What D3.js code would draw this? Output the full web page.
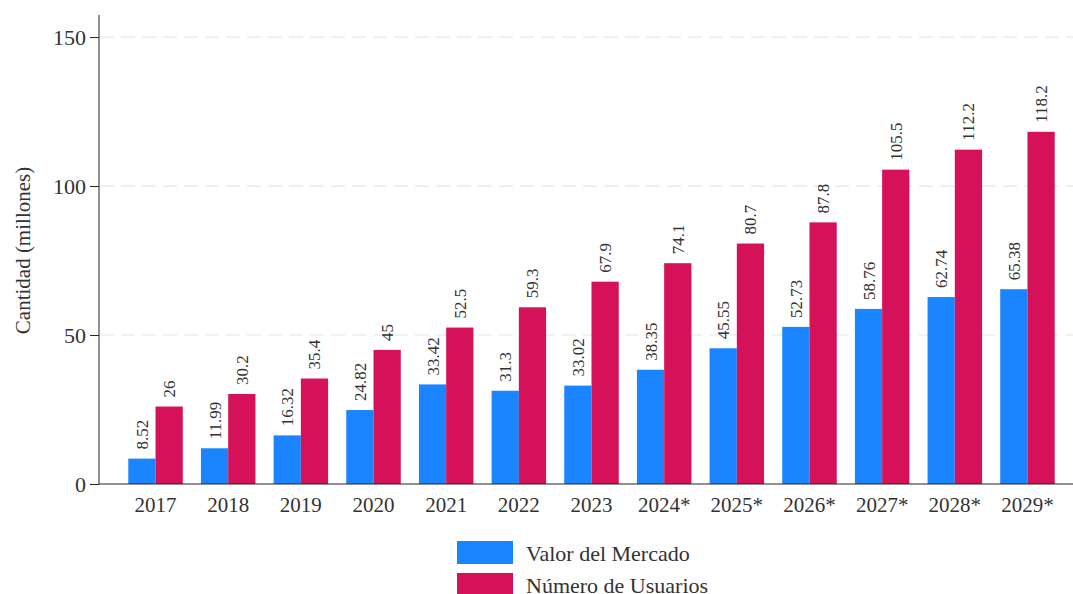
<!DOCTYPE html>
<html>
<head>
<meta charset="utf-8">
<script src="https://cdn.jsdelivr.net/npm/d3@7"></script>
<style>
  html, body { margin: 0; padding: 0; background: #fff; }
  svg { display: block; font-family: "Liberation Serif", "DejaVu Serif", serif; }
</style>
</head>
<body>
<svg id="chart" width="1073" height="594"></svg>
<script>
// Years (asterisk marks projections)
const years = ["2017", "2018", "2019", "2020", "2021", "2022", "2023", "2024*", "2025*", "2026*", "2027*", "2028*", "2029*"];
// Market value (millions)
const marketValue = [8.52, 11.99, 16.32, 24.82, 33.42, 31.3, 33.02, 38.35, 45.55, 52.73, 58.76, 62.74, 65.38];
// Number of users (millions)
const users = [26, 30.2, 35.4, 45, 52.5, 59.3, 67.9, 74.1, 80.7, 87.8, 105.5, 112.2, 118.2];
const seriesNames = ["Valor del Mercado", "Número de Usuarios"];
const seriesColors = ["#1a85ff", "#d41159"];
const yTicks = [0, 50, 100, 150];
const yLabel = "Cantidad (millones)";

const svg = d3.select("#chart");
const plotLeft = 99, plotRight = 1073, plotTop = 15, plotBottom = 484;
const serif = "Liberation Serif, DejaVu Serif, serif";

const y = d3.scaleLinear().domain([0, 157.4]).range([plotBottom, plotTop]);
const x = d3.scaleBand().domain(years).range([119.2, 1063.8]).paddingInner(0.25).paddingOuter(0.125);
const xs = d3.scaleBand().domain([0, 1]).range([0, x.bandwidth()]);

const textColor = "#333";

// dashed gridlines
svg.append("g").selectAll("line").data(yTicks.filter(d => d > 0)).join("line")
  .attr("x1", plotLeft + 1).attr("x2", plotRight)
  .attr("y1", d => y(d)).attr("y2", d => y(d))
  .attr("stroke", "#e6e6e6").attr("stroke-width", 1.2)
  .attr("stroke-dasharray", "14,7");

// bars
const rows = years.map((yr, i) => ({ yr, vals: [marketValue[i], users[i]] }));
const groups = svg.append("g").selectAll("g").data(rows).join("g")
  .attr("transform", d => `translate(${x(d.yr)},0)`);

groups.selectAll("rect").data(d => d.vals.map((v, k) => ({ v, k }))).join("rect")
  .attr("x", d => xs(d.k))
  .attr("width", xs.bandwidth())
  .attr("y", d => y(d.v))
  .attr("height", d => y(0) - y(d.v))
  .attr("fill", d => seriesColors[d.k]);

// rotated value labels
groups.selectAll("text").data(d => d.vals.map((v, k) => ({ v, k }))).join("text")
  .attr("transform", d => `translate(${xs(d.k) + xs.bandwidth() / 2 + 6},${y(d.v) - 9}) rotate(-90)`)
  .attr("text-anchor", "start")
  .attr("font-family", serif)
  .attr("font-size", 17)
  .attr("fill", textColor)
  .text(d => d.v);

// y axis
const yAxis = svg.append("g").attr("transform", `translate(${plotLeft},0)`)
  .call(d3.axisLeft(y).tickValues(yTicks).tickSize(9).tickPadding(4).tickFormat(d3.format("d")));
yAxis.select(".domain").attr("d", `M0,${plotTop}V${plotBottom}`).attr("stroke", "#222");
yAxis.selectAll(".tick line").attr("stroke", "#222");
yAxis.selectAll(".tick text").attr("font-size", 22).attr("fill", textColor)
  .attr("font-family", serif);

// x axis
const xAxis = svg.append("g").attr("transform", `translate(0,${plotBottom})`)
  .call(d3.axisBottom(x).tickSize(0).tickPadding(13));
xAxis.select(".domain").attr("d", `M${plotLeft},0H${plotRight}`).attr("stroke", "#222");
xAxis.selectAll(".tick text").attr("font-size", 21).attr("fill", textColor)
  .attr("font-family", serif);

// y axis title
svg.append("text")
  .attr("transform", `translate(30,${(plotTop + plotBottom) / 2 + 1}) rotate(-90)`)
  .attr("text-anchor", "middle")
  .attr("font-family", serif)
  .attr("font-size", 21)
  .attr("fill", textColor)
  .text(yLabel);

// legend
const legend = svg.append("g").attr("transform", "translate(457,541)");
const li = legend.selectAll("g").data(seriesNames).join("g")
  .attr("transform", (d, i) => `translate(0,${i * 32})`);
li.append("rect").attr("width", 56).attr("height", 23)
  .attr("fill", (d, i) => seriesColors[i]);
li.append("text").attr("x", 69).attr("y", 20)
  .attr("font-family", serif)
  .attr("font-size", 22).attr("fill", textColor)
  .text(d => d);
</script>
</body>
</html>
